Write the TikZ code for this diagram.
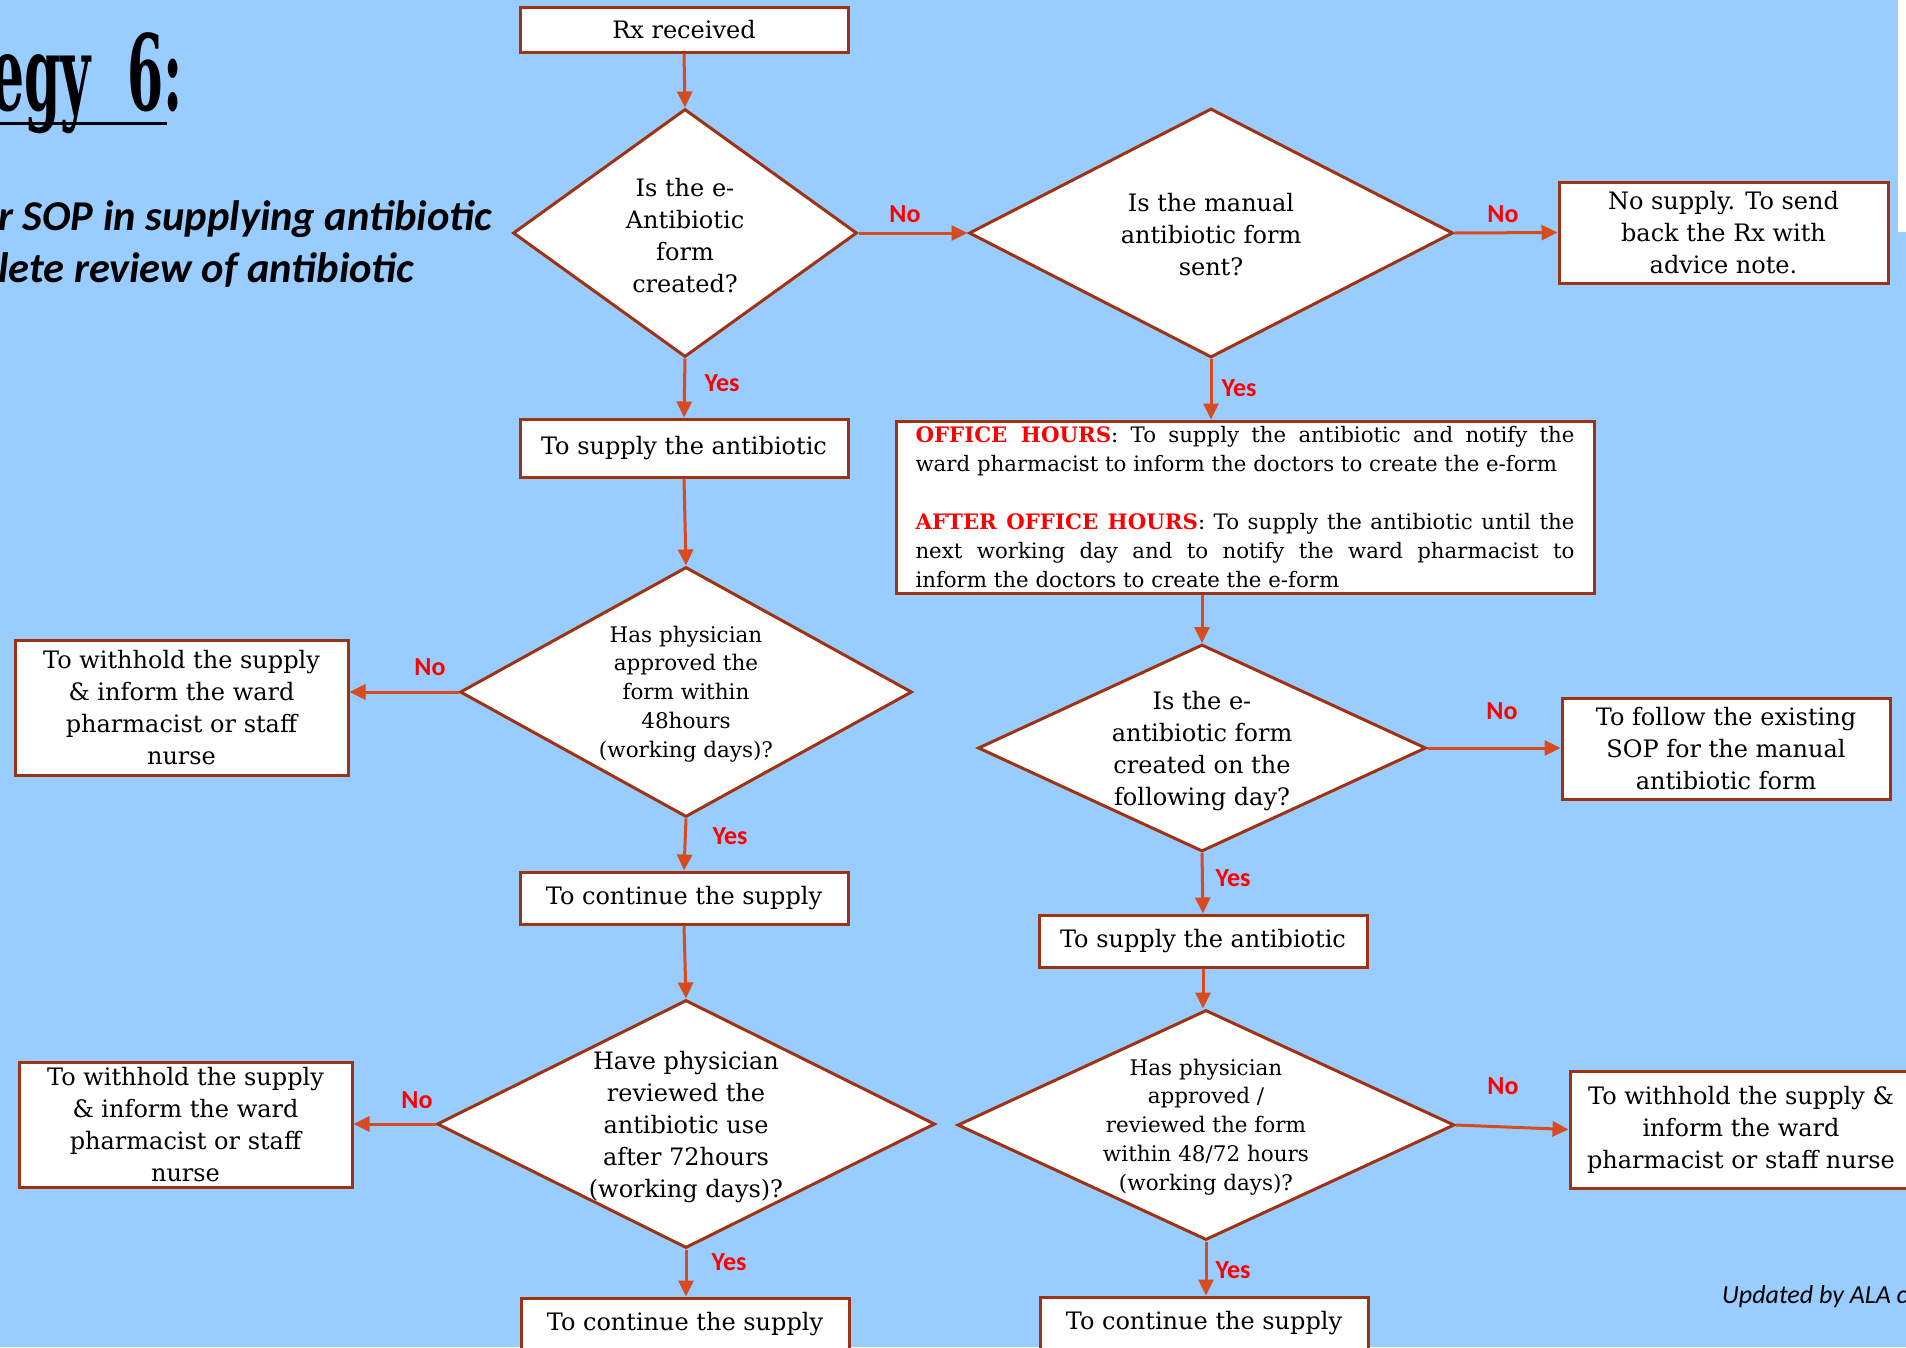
\documentclass[tikz,border=0pt]{standalone}
\usepackage{fontspec}
\usepackage{graphicx}
\setmainfont{DejaVu Serif}
\newfontfamily\labfont{Carlito}
\newfontfamily\titlefont{DejaVu Serif}
\usetikzlibrary{shapes.geometric,arrows.meta}
\definecolor{bg}{RGB}{153,204,255}
\definecolor{boxc}{RGB}{160,50,20}
\definecolor{arrc}{RGB}{215,75,30}
\newcommand\mainsz{\fontsize{24}{32}\selectfont}
\newcommand\smallsz{\fontsize{21.5}{28.8}\selectfont}
\begin{document}
\begin{tikzpicture}[x=1pt,y=-1pt,
  box/.style={draw=boxc, line width=3pt, fill=white, align=center, inner sep=0pt, font=\mainsz},
  dia/.style={diamond, draw=boxc, line width=3pt, fill=white, inner sep=0pt},
  dtext/.style={align=center, inner sep=0pt},
  arr/.style={draw=arrc, line width=3pt, -{Triangle[length=16pt,width=15pt]}},
  lab/.style={text=red, inner sep=0pt, font=\labfont\fontsize{26}{30}\selectfont\bfseries}]
\useasboundingbox (0,0) rectangle (1906,1347);
\clip (0,0) rectangle (1906,1347);
\fill[bg] (0,0) rectangle (1906,1347);
\fill[white] (1898,0) rectangle (1906,232);

% title and side text
\node[anchor=base east, inner sep=0pt] (title) at (183,110) {\scalebox{0.52}[1.05]{\fontsize{100}{100}\selectfont\titlefont\bfseries egy~~6:}};
\draw[line width=3pt] (0,123) -- (167,123);
\node[anchor=base west, inner sep=0pt] (sub1) at (-2,230) {\labfont\fontsize{42.5}{50}\selectfont\bfseries\itshape r SOP in supplying antibiotic};
\node[anchor=base west, inner sep=0pt] (sub2) at (-2,282) {\labfont\fontsize{42.5}{50}\selectfont\bfseries\itshape lete review of antibiotic};
\node[anchor=base west, inner sep=0pt] (upd) at (1722,1303) {\labfont\fontsize{26}{30}\selectfont\itshape Updated by ALA c};

% boxes
\node[box, minimum width=328, minimum height=45] (rx) at (684,29.5) {Rx received};
\node[box, minimum width=329, minimum height=101] (nosupply) at (1723.5,232.5) {No supply. To send\\back the Rx with\\advice note.};
\node[box, minimum width=328, minimum height=58] (supplyL) at (684,448) {To supply the antibiotic};
\node[box, minimum width=698, minimum height=172, text width=659, align=justify, font=\fontsize{21.3}{29}\selectfont] (office) at (1245,507) {\textcolor{red}{\bfseries OFFICE HOURS}: To supply the antibiotic and notify the\linebreak ward pharmacist to inform the doctors to create the e-form\par\vspace{29pt}\textcolor{red}{\bfseries AFTER OFFICE HOURS}: To supply the antibiotic until the\linebreak next working day and to notify the ward pharmacist to\linebreak inform the doctors to create the e-form};
\node[box, minimum width=333, minimum height=135] (withhold1) at (181.5,707.5) {To withhold the supply\\\& inform the ward\\pharmacist or staff\\nurse};
\node[box, minimum width=328, minimum height=101] (sop) at (1726,748.5) {To follow the existing\\SOP for the manual\\antibiotic form};
\node[box, minimum width=328, minimum height=52] (cont1) at (684,898) {To continue the supply};
\node[box, minimum width=328, minimum height=52] (supplyR) at (1203,941) {To supply the antibiotic};
\node[box, minimum width=333, minimum height=125] (withhold2) at (185.5,1124.5) {To withhold the supply\\\& inform the ward\\pharmacist or staff\\nurse};
\node[box, minimum width=342, minimum height=117] (withhold3) at (1741,1129.5) {To withhold the supply \&\\inform the ward\\pharmacist or staff nurse};
\node[box, minimum width=328, minimum height=52] (cont2) at (685,1324) {To continue the supply};
\node[box, minimum width=328, minimum height=52] (cont3) at (1204,1323) {To continue the supply};

% diamonds
\node[dia, minimum width=344, minimum height=248] (D1) at (685,233) {};
\node[dtext, font=\mainsz] (D1t) at (685,236) {Is the e-\\Antibiotic\\form\\created?};
\node[dia, minimum width=484, minimum height=249] (D2) at (1211,233) {};
\node[dtext, font=\mainsz] (D2t) at (1211,235) {Is the manual\\antibiotic form\\sent?};
\node[dia, minimum width=452, minimum height=250] (D3) at (686,692) {};
\node[dtext, font=\smallsz] (D3t) at (686,694) {Has physician\\approved the\\form within\\48hours\\(working days)?};
\node[dia, minimum width=448, minimum height=207] (D4) at (1202,748) {};
\node[dtext, font=\mainsz] (D4t) at (1202,751) {Is the e-\\antibiotic form\\created on the\\following day?};
\node[dia, minimum width=498, minimum height=248] (D5) at (686,1124) {};
\node[dtext, font=\mainsz] (D5t) at (686,1127) {Have physician\\reviewed the\\antibiotic use\\after 72hours\\(working days)?};
\node[dia, minimum width=497, minimum height=230] (D6) at (1206,1125) {};
\node[dtext, font=\smallsz] (D6t) at (1206,1127) {Has physician\\approved /\\reviewed the form\\within 48/72 hours\\(working days)?};

% connectors
\draw[arr] (rx.south) -- (D1.north);
\draw[arr] (D1.east) -- (D2.west);
\draw[arr] (D2.east) -- (nosupply.west);
\draw[arr] (D1.south) -- (supplyL.north);
\draw[arr] (D2.south) -- (D2.south |- office.north);
\draw[arr] (supplyL.south) -- (D3.north);
\draw[arr] (office.south -| D4.north) -- (D4.north);
\draw[arr] (D3.west) -- (D3.west -| withhold1.east);
\draw[arr] (D3.south) -- (cont1.north);
\draw[arr] (D4.east) -- (D4.east -| sop.west);
\draw[arr] (D4.south) -- (supplyR.north);
\draw[arr] (cont1.south) -- (D5.north);
\draw[arr] (supplyR.south) -- (supplyR.south |- D6.north);
\draw[arr] (D5.west) -- (D5.west -| withhold2.east);
\draw[arr] (D5.south) -- (D5.south |- cont2.north);
\draw[arr] (D6.east) -- (withhold3.west);
\draw[arr] (D6.south) -- (D6.south |- cont3.north);

% labels
\node[lab] (n1) at (905,214) {No};
\node[lab] (n2) at (1503,214) {No};
\node[lab] (y1) at (722,383) {Yes};
\node[lab] (y2) at (1239,388) {Yes};
\node[lab] (n3) at (430,667) {No};
\node[lab] (y3) at (730,836) {Yes};
\node[lab] (n4) at (1502,711) {No};
\node[lab] (y4) at (1233,878) {Yes};
\node[lab] (n5) at (417,1100) {No};
\node[lab] (y5) at (729,1262) {Yes};
\node[lab] (n6) at (1503,1086) {No};
\node[lab] (y6) at (1233,1270) {Yes};
\end{tikzpicture}
\end{document}
